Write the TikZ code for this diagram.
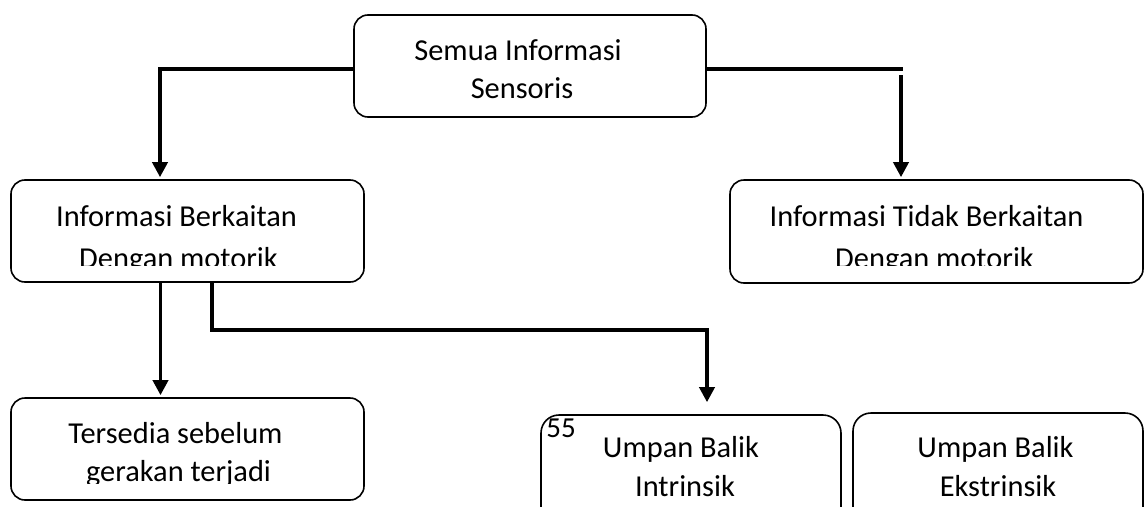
\documentclass[tikz,border=0pt]{standalone}
\usepackage{fontspec}
\setmainfont{Carlito}
\usetikzlibrary{arrows.meta}
\begin{document}
\begin{tikzpicture}[x=1pt,y=-1pt,
  box/.style={draw, line width=1.6pt, rounded corners=14pt, inner sep=0pt},
  wire/.style={line width=3.6pt},
  arrowwire/.style={wire, -{Triangle[width=15pt,length=15pt]}},
  txt/.style={anchor=base, inner sep=0pt, font=\fontsize{30.4}{36}\selectfont},
]
\useasboundingbox (0,0) rectangle (1145,506);

% boxes
\node[box, minimum width=352pt, minimum height=102pt] (top) at (530,66) {};
\node[box, minimum width=353pt, minimum height=102pt] (lb) at (187.5,231) {};
\node[box, minimum width=413pt, minimum height=103pt] (rb) at (936.5,231.5) {};
\node[box, minimum width=353pt, minimum height=102pt] (bl) at (187.5,449) {};
\node[box, rounded corners=18pt, minimum width=300pt, minimum height=130pt] (ib) at (691,480) {};
\node[box, rounded corners=18pt, minimum width=290pt, minimum height=132pt] (eb) at (998,479) {};

% labels
\node[txt] (t1) at (518,60) {Semua Informasi};
\node[txt] (t2) at (522,98) {Sensoris};
\node[txt] (l1) at (176.5,226) {Informasi Berkaitan};
\node[txt] (r1) at (926.5,226) {Informasi Tidak Berkaitan};
\begin{scope}
  \clip (0,0) rectangle (1145,265);
  \node[txt] (l2) at (178.5,268) {Dengan motorik};
  \node[txt] (r2) at (934.5,268) {Dengan motorik};
\end{scope}
\node[txt] (b1) at (175.5,443) {Tersedia sebelum};
\begin{scope}
  \clip (0,300) rectangle (1145,483);
  \node[txt] (b2) at (178.5,481) {gerakan terjadi};
\end{scope}
\node[txt] (i1) at (681,457) {Umpan Balik};
\node[txt] (i2) at (685,496) {Intrinsik};
\node[txt] (e1) at (995.5,457) {Umpan Balik};
\node[txt] (e2) at (998,496) {Ekstrinsik};
\node[txt, font=\fontsize{29}{34}\selectfont] (pg) at (561,437) {55};

% connectors
\draw[arrowwire, shorten >=2pt] ([yshift=-3pt]top.west) -| ([xshift=-27.5pt]lb.north);
\coordinate (rj) at (903,69);
\coordinate (rs) at (901,75);
\draw[wire] ([yshift=-3pt]top.east) -- (rj);
\draw[arrowwire, shorten >=2pt] (rs) -- (rs |- rb.north);
\draw[arrowwire, shorten >=2pt] ([xshift=-27pt]lb.south) -- ([xshift=-27pt]bl.north);
\draw[arrowwire] ([xshift=24.5pt]lb.south) -- ++(0,47) -| ([xshift=16pt,yshift=12pt]ib.north);
\end{tikzpicture}
\end{document}
